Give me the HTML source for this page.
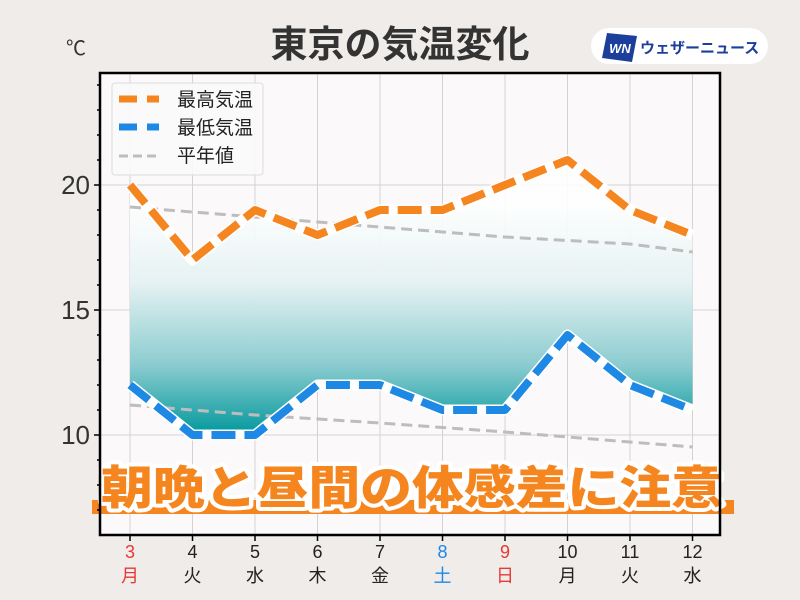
<!DOCTYPE html>
<html><head><meta charset="utf-8"><style>
html,body{margin:0;padding:0;background:#efecea;}
svg{display:block;font-family:"Liberation Sans","Noto Sans CJK JP",sans-serif;}
</style></head><body>
<svg width="800" height="600" viewBox="0 0 800 600">
<defs>
<linearGradient id="g" gradientUnits="userSpaceOnUse" x1="0" y1="200" x2="0" y2="435">
<stop offset="0" stop-color="#ffffff" stop-opacity="0.9"/>
<stop offset="0.35" stop-color="#e6f2f3"/>
<stop offset="0.7" stop-color="#8cccd0"/>
<stop offset="1" stop-color="#00989c"/>
</linearGradient>
</defs>
<rect width="800" height="600" fill="#efecea"/>
<text x="400" y="57" text-anchor="middle" font-size="37" font-weight="bold" fill="#333">東京の気温変化</text>
<text x="66" y="55" font-size="20" fill="#333">℃</text>
<rect x="591" y="28" width="177" height="36" rx="18" fill="#fff"/>
<polygon points="607,33 637,36 632,62 602,58" fill="#1b3f9a"/>
<text x="620" y="53" text-anchor="middle" font-size="13" font-weight="bold" font-style="italic" fill="#fff">WN</text>
<text x="640" y="53" font-size="15" font-weight="bold" fill="#1b3f9a">ウェザーニュース</text>
<rect x="100" y="73" width="620" height="462" fill="#fbf9fa"/>
<g stroke="#d4d2d3" stroke-width="1">
<line x1="130" y1="73" x2="130" y2="535"/><line x1="192.5" y1="73" x2="192.5" y2="535"/><line x1="255" y1="73" x2="255" y2="535"/><line x1="317.5" y1="73" x2="317.5" y2="535"/><line x1="380" y1="73" x2="380" y2="535"/><line x1="442.5" y1="73" x2="442.5" y2="535"/><line x1="505" y1="73" x2="505" y2="535"/><line x1="567.5" y1="73" x2="567.5" y2="535"/><line x1="630" y1="73" x2="630" y2="535"/><line x1="692.5" y1="73" x2="692.5" y2="535"/>
<line x1="100" y1="185" x2="720" y2="185"/><line x1="100" y1="310" x2="720" y2="310"/><line x1="100" y1="435" x2="720" y2="435"/>
</g>
<polygon fill="url(#g)" points="130,185 192.5,260 255,210 317.5,235 380,210 442.5,210 505,185 567.5,160 630,210 692.5,235 692.5,410 630,385 567.5,335 505,410 442.5,410 380,385 317.5,385 255,435 192.5,435 130,385"/>
<g fill="none" stroke="#bdbdbd" stroke-width="3" stroke-dasharray="11,6">
<polyline points="130,207 255,217 380,227 505,237 630,244 692.5,252"/>
<polyline points="130,405 255,415 380,423 505,432 630,442 692.5,447"/>
</g>
<g fill="none" stroke-width="8" stroke-linejoin="round">
<polyline stroke="#fff" stroke-width="11" points="130,185 192.5,260 255,210 317.5,235 380,210 442.5,210 505,185 567.5,160 630,210 692.5,235"/>
<polyline stroke="#f5861f" stroke-dasharray="24,9" points="130,185 192.5,260 255,210 317.5,235 380,210 442.5,210 505,185 567.5,160 630,210 692.5,235"/>
<polyline stroke="#fff" stroke-width="11" points="130,385 192.5,435 255,435 317.5,385 380,385 442.5,410 505,410 567.5,335 630,385 692.5,410"/>
<polyline stroke="#1e88e5" stroke-dasharray="24,9" points="130,385 192.5,435 255,435 317.5,385 380,385 442.5,410 505,410 567.5,335 630,385 692.5,410"/>
</g>
<rect x="112" y="83" width="151" height="92" rx="3" fill="#fbf9fa" fill-opacity="0.9" stroke="#dcdcdc"/>
<line x1="119" y1="99" x2="159" y2="99" stroke="#f5861f" stroke-width="7" stroke-dasharray="18,10"/>
<line x1="119" y1="127" x2="159" y2="127" stroke="#1e88e5" stroke-width="7" stroke-dasharray="18,10"/>
<line x1="119" y1="156" x2="159" y2="156" stroke="#bdbdbd" stroke-width="3" stroke-dasharray="9,5"/>
<g font-size="19" fill="#222"><text x="177" y="106">最高気温</text><text x="177" y="134">最低気温</text><text x="177" y="162">平年値</text></g>
<rect x="92" y="500" width="642" height="14" fill="#f5861f"/>
<text x="412" y="504" text-anchor="middle" font-size="46" font-weight="900" fill="#f5861f" stroke="#fff" stroke-width="8" paint-order="stroke" stroke-linejoin="round" textLength="622" lengthAdjust="spacingAndGlyphs">朝晩と昼間の体感差に注意</text>
<rect x="100" y="73" width="620" height="462" fill="none" stroke="#000" stroke-width="2.5"/>
<g stroke="#000" stroke-width="1.5">
<line x1="94" y1="185" x2="100" y2="185"/><line x1="94" y1="310" x2="100" y2="310"/><line x1="94" y1="435" x2="100" y2="435"/>
<line x1="97" y1="85" x2="100" y2="85"/><line x1="97" y1="110" x2="100" y2="110"/><line x1="97" y1="135" x2="100" y2="135"/><line x1="97" y1="160" x2="100" y2="160"/><line x1="97" y1="210" x2="100" y2="210"/><line x1="97" y1="235" x2="100" y2="235"/><line x1="97" y1="260" x2="100" y2="260"/><line x1="97" y1="285" x2="100" y2="285"/><line x1="97" y1="335" x2="100" y2="335"/><line x1="97" y1="360" x2="100" y2="360"/><line x1="97" y1="385" x2="100" y2="385"/><line x1="97" y1="410" x2="100" y2="410"/><line x1="97" y1="460" x2="100" y2="460"/><line x1="97" y1="485" x2="100" y2="485"/><line x1="97" y1="510" x2="100" y2="510"/>
<line x1="130" y1="535" x2="130" y2="541"/><line x1="192.5" y1="535" x2="192.5" y2="541"/><line x1="255" y1="535" x2="255" y2="541"/><line x1="317.5" y1="535" x2="317.5" y2="541"/><line x1="380" y1="535" x2="380" y2="541"/><line x1="442.5" y1="535" x2="442.5" y2="541"/><line x1="505" y1="535" x2="505" y2="541"/><line x1="567.5" y1="535" x2="567.5" y2="541"/><line x1="630" y1="535" x2="630" y2="541"/><line x1="692.5" y1="535" x2="692.5" y2="541"/>
</g>
<g font-size="26" fill="#333" text-anchor="end"><text x="90" y="194">20</text><text x="90" y="319">15</text><text x="90" y="444">10</text></g>
<g font-size="18" text-anchor="middle" fill="#222">
<text x="130" y="558" fill="#e53935">3</text><text x="130" y="582" fill="#e53935">月</text>
<text x="192.5" y="558">4</text><text x="192.5" y="582">火</text>
<text x="255" y="558">5</text><text x="255" y="582">水</text>
<text x="317.5" y="558">6</text><text x="317.5" y="582">木</text>
<text x="380" y="558">7</text><text x="380" y="582">金</text>
<text x="442.5" y="558" fill="#1e88e5">8</text><text x="442.5" y="582" fill="#1e88e5">土</text>
<text x="505" y="558" fill="#e53935">9</text><text x="505" y="582" fill="#e53935">日</text>
<text x="567.5" y="558">10</text><text x="567.5" y="582">月</text>
<text x="630" y="558">11</text><text x="630" y="582">火</text>
<text x="692.5" y="558">12</text><text x="692.5" y="582">水</text>
</g>
</svg>
</body></html>
